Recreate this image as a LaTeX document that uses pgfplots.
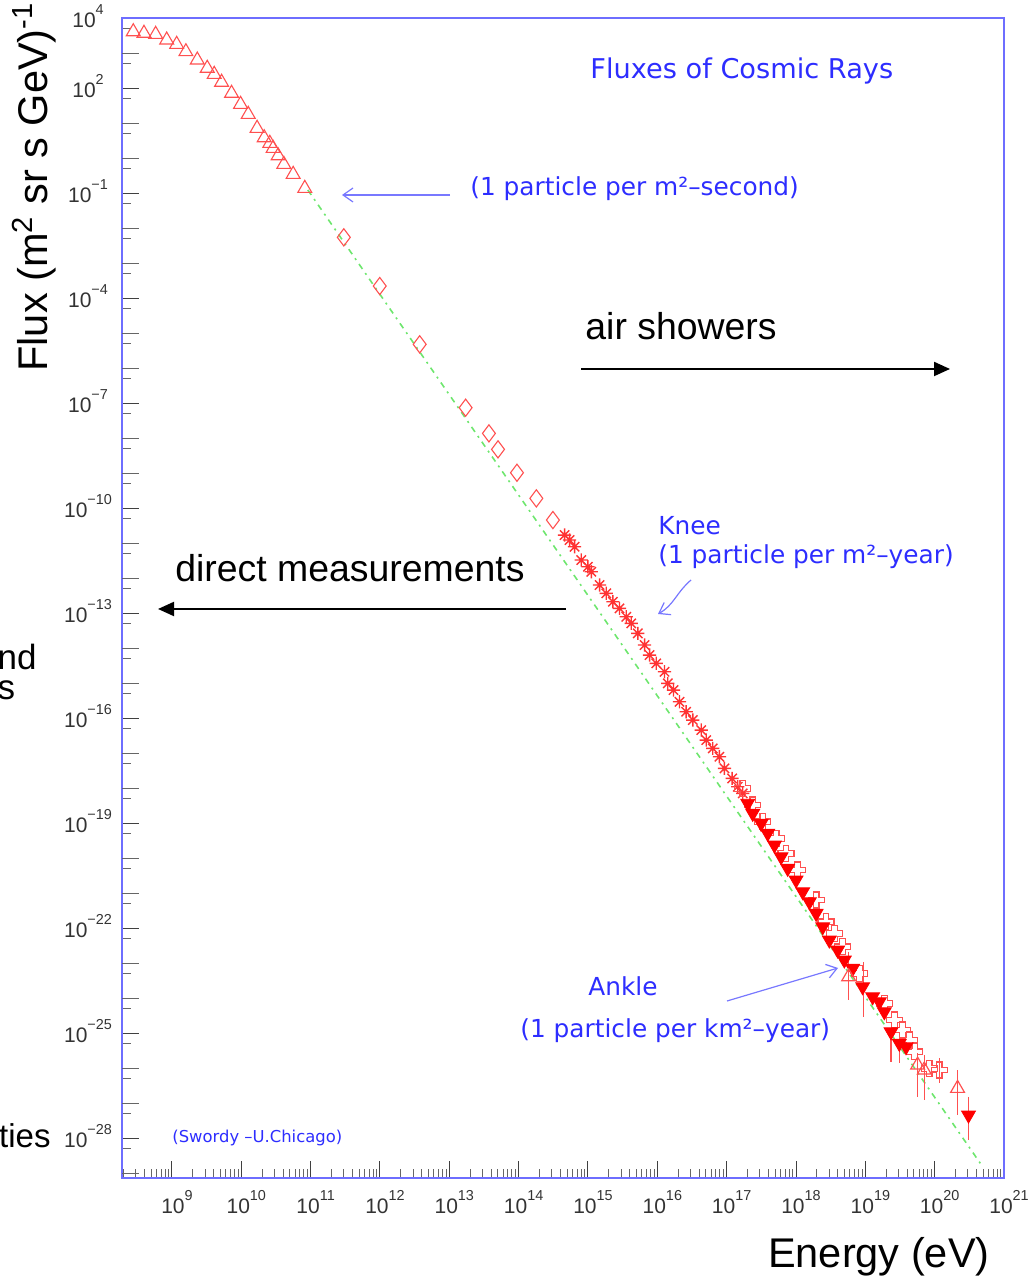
\documentclass[border=0pt]{standalone}
\usepackage{fontspec}
\setmainfont{Liberation Sans}
\newfontfamily\notefont{DejaVu Sans}
\usepackage{pgfplots}
\pgfplotsset{compat=1.18}
\usetikzlibrary{arrows.meta}

\definecolor{frameblue}{RGB}{110,110,255}
\definecolor{noteblue}{RGB}{45,45,255}
\definecolor{arrowblue}{RGB}{120,120,255}
\definecolor{openred}{RGB}{255,80,80}
\definecolor{fillred}{RGB}{255,0,0}
\definecolor{fitgreen}{RGB}{110,230,110}

% power-of-ten tick label in the text font
\newcommand\tp[1]{10\raisebox{0.6em}{\fontsize{7.2}{8}\selectfont #1}}

% open cross marker
\pgfdeclareplotmark{opencross}{%
  \pgfpathmoveto{\pgfpoint{-0.35\pgfplotmarksize}{\pgfplotmarksize}}%
  \pgfpathlineto{\pgfpoint{0.35\pgfplotmarksize}{\pgfplotmarksize}}%
  \pgfpathlineto{\pgfpoint{0.35\pgfplotmarksize}{0.35\pgfplotmarksize}}%
  \pgfpathlineto{\pgfpoint{\pgfplotmarksize}{0.35\pgfplotmarksize}}%
  \pgfpathlineto{\pgfpoint{\pgfplotmarksize}{-0.35\pgfplotmarksize}}%
  \pgfpathlineto{\pgfpoint{0.35\pgfplotmarksize}{-0.35\pgfplotmarksize}}%
  \pgfpathlineto{\pgfpoint{0.35\pgfplotmarksize}{-\pgfplotmarksize}}%
  \pgfpathlineto{\pgfpoint{-0.35\pgfplotmarksize}{-\pgfplotmarksize}}%
  \pgfpathlineto{\pgfpoint{-0.35\pgfplotmarksize}{-0.35\pgfplotmarksize}}%
  \pgfpathlineto{\pgfpoint{-\pgfplotmarksize}{-0.35\pgfplotmarksize}}%
  \pgfpathlineto{\pgfpoint{-\pgfplotmarksize}{0.35\pgfplotmarksize}}%
  \pgfpathlineto{\pgfpoint{-0.35\pgfplotmarksize}{0.35\pgfplotmarksize}}%
  \pgfpathclose
  \pgfusepathqstroke
}

% eight-armed star marker
\pgfdeclareplotmark{star8}{%
  \pgfpathmoveto{\pgfpoint{-\pgfplotmarksize}{0pt}}%
  \pgfpathlineto{\pgfpoint{\pgfplotmarksize}{0pt}}%
  \pgfpathmoveto{\pgfpoint{0pt}{-\pgfplotmarksize}}%
  \pgfpathlineto{\pgfpoint{0pt}{\pgfplotmarksize}}%
  \pgfpathmoveto{\pgfpoint{-0.7071\pgfplotmarksize}{-0.7071\pgfplotmarksize}}%
  \pgfpathlineto{\pgfpoint{0.7071\pgfplotmarksize}{0.7071\pgfplotmarksize}}%
  \pgfpathmoveto{\pgfpoint{-0.7071\pgfplotmarksize}{0.7071\pgfplotmarksize}}%
  \pgfpathlineto{\pgfpoint{0.7071\pgfplotmarksize}{-0.7071\pgfplotmarksize}}%
  \pgfusepathqstroke
}

\begin{document}
\begin{tikzpicture}[x=0.5pt,y=0.5pt]
\useasboundingbox (0,0) rectangle (1029,1283);

\begin{axis}[
  at={(61pt,52.5pt)}, anchor=south west,
  scale only axis, width=441pt, height=580pt,
  xmode=log, ymode=log,
  xmin=1.905e8, xmax=1e21,
  ymin=7.24e-30, ymax=1e4,
  axis line style={frameblue, line width=1pt},
  tick align=inside, xtick pos=left, ytick pos=left,
  major tick length=8.5pt, minor tick length=4.5pt,
  tick style={black!75, line width=0.5pt},
  minor tick style={black!60, line width=0.5pt},
  ticklabel style={font=\fontsize{10.5}{12}\selectfont, text=black!80, inner sep=0pt},
  xticklabel style={anchor=base, yshift=-17.5pt, xshift=2.5pt},
  yticklabel style={anchor=base, xshift=-17pt, yshift=-4.7pt},
  xtick={1e9,1e10,1e11,1e12,1e13,1e14,1e15,1e16,1e17,1e18,1e19,1e20,1e21},
  xticklabels={\tp{9},\tp{10},\tp{11},\tp{12},\tp{13},\tp{14},\tp{15},\tp{16},\tp{17},\tp{18},\tp{19},\tp{20},\tp{21}},
  minor xtick={2e8,3e8,4e8,5e8,6e8,7e8,8e8,9e8,
    2e9,3e9,4e9,5e9,6e9,7e9,8e9,9e9,
    2e10,3e10,4e10,5e10,6e10,7e10,8e10,9e10,
    2e11,3e11,4e11,5e11,6e11,7e11,8e11,9e11,
    2e12,3e12,4e12,5e12,6e12,7e12,8e12,9e12,
    2e13,3e13,4e13,5e13,6e13,7e13,8e13,9e13,
    2e14,3e14,4e14,5e14,6e14,7e14,8e14,9e14,
    2e15,3e15,4e15,5e15,6e15,7e15,8e15,9e15,
    2e16,3e16,4e16,5e16,6e16,7e16,8e16,9e16,
    2e17,3e17,4e17,5e17,6e17,7e17,8e17,9e17,
    2e18,3e18,4e18,5e18,6e18,7e18,8e18,9e18,
    2e19,3e19,4e19,5e19,6e19,7e19,8e19,9e19,
    2e20,3e20,4e20,5e20,6e20,7e20,8e20,9e20},
  ytick={1e4,1e2,1e-1,1e-4,1e-7,1e-10,1e-13,1e-16,1e-19,1e-22,1e-25,1e-28},
  yticklabels={\tp{4},\tp{2},\tp{−1},\tp{−4},\tp{−7},\tp{−10},\tp{−13},\tp{−16},\tp{−19},\tp{−22},\tp{−25},\tp{−28}},
  extra y ticks={1e3,1e1,1e0,1e-2,1e-3,1e-5,1e-6,1e-8,1e-9,1e-11,1e-12,1e-14,1e-15,1e-17,1e-18,1e-20,1e-21,1e-23,1e-24,1e-26,1e-27,1e-29},
  extra y tick labels={},
  extra y tick style={tick style={black!60, line width=0.5pt}},
  minor ytick={5e-29,5e-28,5e-27,5e-26,5e-25,5e-24,5e-23,5e-22,5e-21,5e-20,
    5e-19,5e-18,5e-17,5e-16,5e-15,5e-14,5e-13,5e-12,5e-11,5e-10,
    5e-9,5e-8,5e-7,5e-6,5e-5,5e-4,5e-3,5e-2,5e-1,5e0,5e1,5e2,5e3},
  clip=true,
]

% power-law reference line
\addplot[fitgreen, line width=0.8pt, dash pattern=on 3pt off 2.5pt on 1pt off 2.5pt]
  coordinates {(9.12e10,0.122) (4.85e20,1.585e-29)};

% direct measurements (low energy)
\addplot[only marks, mark=triangle, mark size=4pt, openred, line width=0.55pt] coordinates {
  (2.77e8,4.06e3) (3.95e8,3.66e3) (5.82e8,3.42e3) (8.40e8,2.35e3)
  (1.17e9,1.77e3) (1.59e9,1.09e3) (2.32e9,631) (3.23e9,366)
  (4.07e9,246) (5.20e9,146) (7.24e9,70.6) (9.77e9,34.2)
  (1.26e10,17.7) (1.69e10,7.06) (2.14e10,3.80) (2.58e10,2.63)
  (2.88e10,1.89) (3.40e10,1.16) (4.11e10,0.661) (5.60e10,0.342)
  (8.24e10,0.136)};

\addplot[only marks, mark=diamond, mark size=4.3pt, openred, line width=0.55pt] coordinates {
  (3.01e11,5.42e-3) (9.93e11,2.20e-4) (3.74e12,4.75e-6) (1.72e13,7.35e-8)
  (3.73e13,1.36e-8) (5.04e13,4.75e-9) (9.46e13,1.02e-9) (1.80e14,1.89e-10)
  (3.12e14,4.54e-11)};

% air shower arrays around the knee
\addplot[only marks, mark=star8, mark size=3.3pt, fillred!80, line width=0.7pt] coordinates {
  (4.60e14,1.69e-11) (5.43e14,1.22e-11) (6.41e14,7.83e-12) (8.00e14,3.27e-12)
  (9.98e14,2.10e-12) (1.117e15,1.51e-12) (1.469e15,6.31e-13) (1.837e15,3.66e-13)
  (2.286e15,2.10e-13) (2.851e15,1.36e-13) (3.565e15,7.83e-14) (4.207e15,5.08e-14)
  (5.236e15,2.63e-14) (6.546e15,1.22e-14) (7.727e15,6.31e-15) (9.64e15,3.66e-15)
  (1.27e16,2.10e-15) (1.416e16,9.79e-16) (1.710e16,6.31e-16) (2.089e16,2.92e-16)
  (2.606e16,1.51e-16) (3.251e16,8.77e-17) (4.295e16,4.54e-17) (5.07e16,2.35e-17)
  (6.31e16,1.36e-17) (7.87e16,7.83e-18) (9.29e16,3.66e-18) (1.199e17,1.89e-18)
  (1.445e17,1.09e-18) (1.706e17,7.06e-19)};

% error bars at the highest energies
\pgfplotsset{errbar/.style={openred, line width=0.6pt, forget plot}}
\addplot[errbar] coordinates {(5.754e18,2.10e-23) (5.754e18,8.77e-25)};
\addplot[errbar] coordinates {(9.44e18,1.09e-23) (9.44e18,2.92e-25)};
\addplot[errbar] coordinates {(2.344e19,1.09e-25) (2.344e19,1.48e-26)};
\addplot[errbar] coordinates {(3.09e19,5.08e-26) (3.09e19,1.39e-26)};
\addplot[errbar] coordinates {(5.675e19,2.68e-26) (5.675e19,1.48e-27)};
\addplot[errbar] coordinates {(7.08e19,2.35e-26) (7.08e19,1.22e-27)};
\addplot[errbar] coordinates {(1.164e20,1.93e-26) (1.164e20,3.72e-27)};
\addplot[errbar] coordinates {(2.138e20,8.77e-27) (2.138e20,4.54e-28)};
\addplot[errbar] coordinates {(3.076e20,1.51e-27) (3.076e20,8.77e-29)};

\addplot[only marks, mark=opencross, mark size=4pt, openred, line width=0.6pt] coordinates {
  (1.706e17,9.79e-19) (2.377e17,3.27e-19) (3.311e17,1.09e-19) (5.164e17,3.66e-20)
  (7.194e17,1.36e-20) (1.057e18,4.54e-21) (1.950e18,6.31e-22) (2.716e18,1.51e-22)
  (3.573e18,7.06e-23) (4.710e18,2.92e-23) (8.20e18,5.08e-24) (1.879e19,7.06e-25)
  (2.618e19,2.35e-25) (3.451e19,1.22e-25) (4.305e19,6.31e-26) (5.082e19,2.92e-26)
  (8.36e19,9.79e-27) (1.164e20,8.77e-27)};

\addplot[only marks, mark=triangle*, mark size=4pt, fillred, mark options={rotate=180, fill=fillred}] coordinates {
  (2.014e17,3.66e-19) (2.377e17,1.89e-19) (3.141e17,9.79e-20) (3.908e17,5.08e-20)
  (4.887e17,2.35e-20) (6.095e17,1.09e-20) (7.586e17,5.08e-21) (1.002e18,2.35e-21)
  (1.250e18,1.09e-21) (1.560e18,5.64e-22) (1.950e18,2.63e-22) (2.427e18,1.09e-22)
  (3.027e18,4.54e-23) (3.990e18,2.35e-23) (4.977e18,1.22e-23) (6.561e18,7.06e-24)
  (9.14e18,2.10e-24) (1.274e19,1.09e-24) (1.592e19,7.83e-25) (1.879e19,4.06e-25)
  (2.344e19,1.09e-25) (3.090e19,5.08e-26) (3.864e19,4.06e-26) (3.076e20,4.54e-28)};

\addplot[only marks, mark=triangle, mark size=4pt, openred, line width=0.6pt, mark options={fill=white}] coordinates {
  (5.754e18,4.06e-24) (5.675e19,1.22e-26) (7.08e19,8.77e-27) (2.138e20,2.63e-27)};
\end{axis}

% annotations
\begin{scope}[every node/.style={inner sep=0pt}]
\node[anchor=base west, text=noteblue, font=\notefont\fontsize{13.6}{15}\selectfont] at (590,1204) {Fluxes of Cosmic Rays};
\node[anchor=base west, text=noteblue, font=\notefont\fontsize{12.4}{14}\selectfont] at (470,1087) {(1 particle per m²–second)};
\node[anchor=base west, text=noteblue, font=\notefont\fontsize{12.4}{14}\selectfont] at (658,748) {Knee};
\node[anchor=base west, text=noteblue, font=\notefont\fontsize{12.4}{14}\selectfont] at (658,719) {(1 particle per m²–year)};
\node[anchor=base west, text=noteblue, font=\notefont\fontsize{12.4}{14}\selectfont] at (588,287) {Ankle};
\node[anchor=base west, text=noteblue, font=\notefont\fontsize{12.4}{14}\selectfont] at (520,245) {(1 particle per km²–year)};
\node[anchor=base west, text=noteblue, font=\notefont\fontsize{8.2}{10}\selectfont] at (172,140) {(Swordy –U.Chicago)};

\draw[arrowblue, line width=0.6pt, -{Straight Barb[length=5pt,width=7pt]}] (450,1088) -- (342,1088);
\draw[arrowblue, line width=0.6pt, -{Straight Barb[length=5pt,width=7pt]}] (691,703) .. controls (676,690) and (674,678) .. (658,669);
\draw[arrowblue, line width=0.6pt, -{Straight Barb[length=5pt,width=7pt]}] (727,282) -- (838,315);

\node[anchor=base west, font=\fontsize{18.7}{22}\selectfont] at (585,943) {air showers};
\draw[black, line width=1pt, -{Triangle[length=8pt,width=7pt]}] (581,914) -- (950,914);
\node[anchor=base west, font=\fontsize{18.7}{22}\selectfont] at (175,701) {direct measurements};
\draw[black, line width=1pt, -{Triangle[length=8pt,width=7pt]}] (566,674) -- (158,674);

\node[anchor=base east, font=\fontsize{20.75}{24}\selectfont] at (990,15) {Energy (eV)};
\node[anchor=base west, rotate=90, font=\fontsize{20.75}{24}\selectfont] at (48,911) {Flux (m\textsuperscript{2} sr s GeV)\textsuperscript{-1}};

\node[anchor=base east, font=\fontsize{17.5}{20}\selectfont] at (37,613) {nd};
\node[anchor=base east, font=\fontsize{17.5}{20}\selectfont] at (15.5,583) {s};
\node[anchor=base east, font=\fontsize{16.5}{19}\selectfont] at (51,135) {ties};
\end{scope}
\end{tikzpicture}
\end{document}
